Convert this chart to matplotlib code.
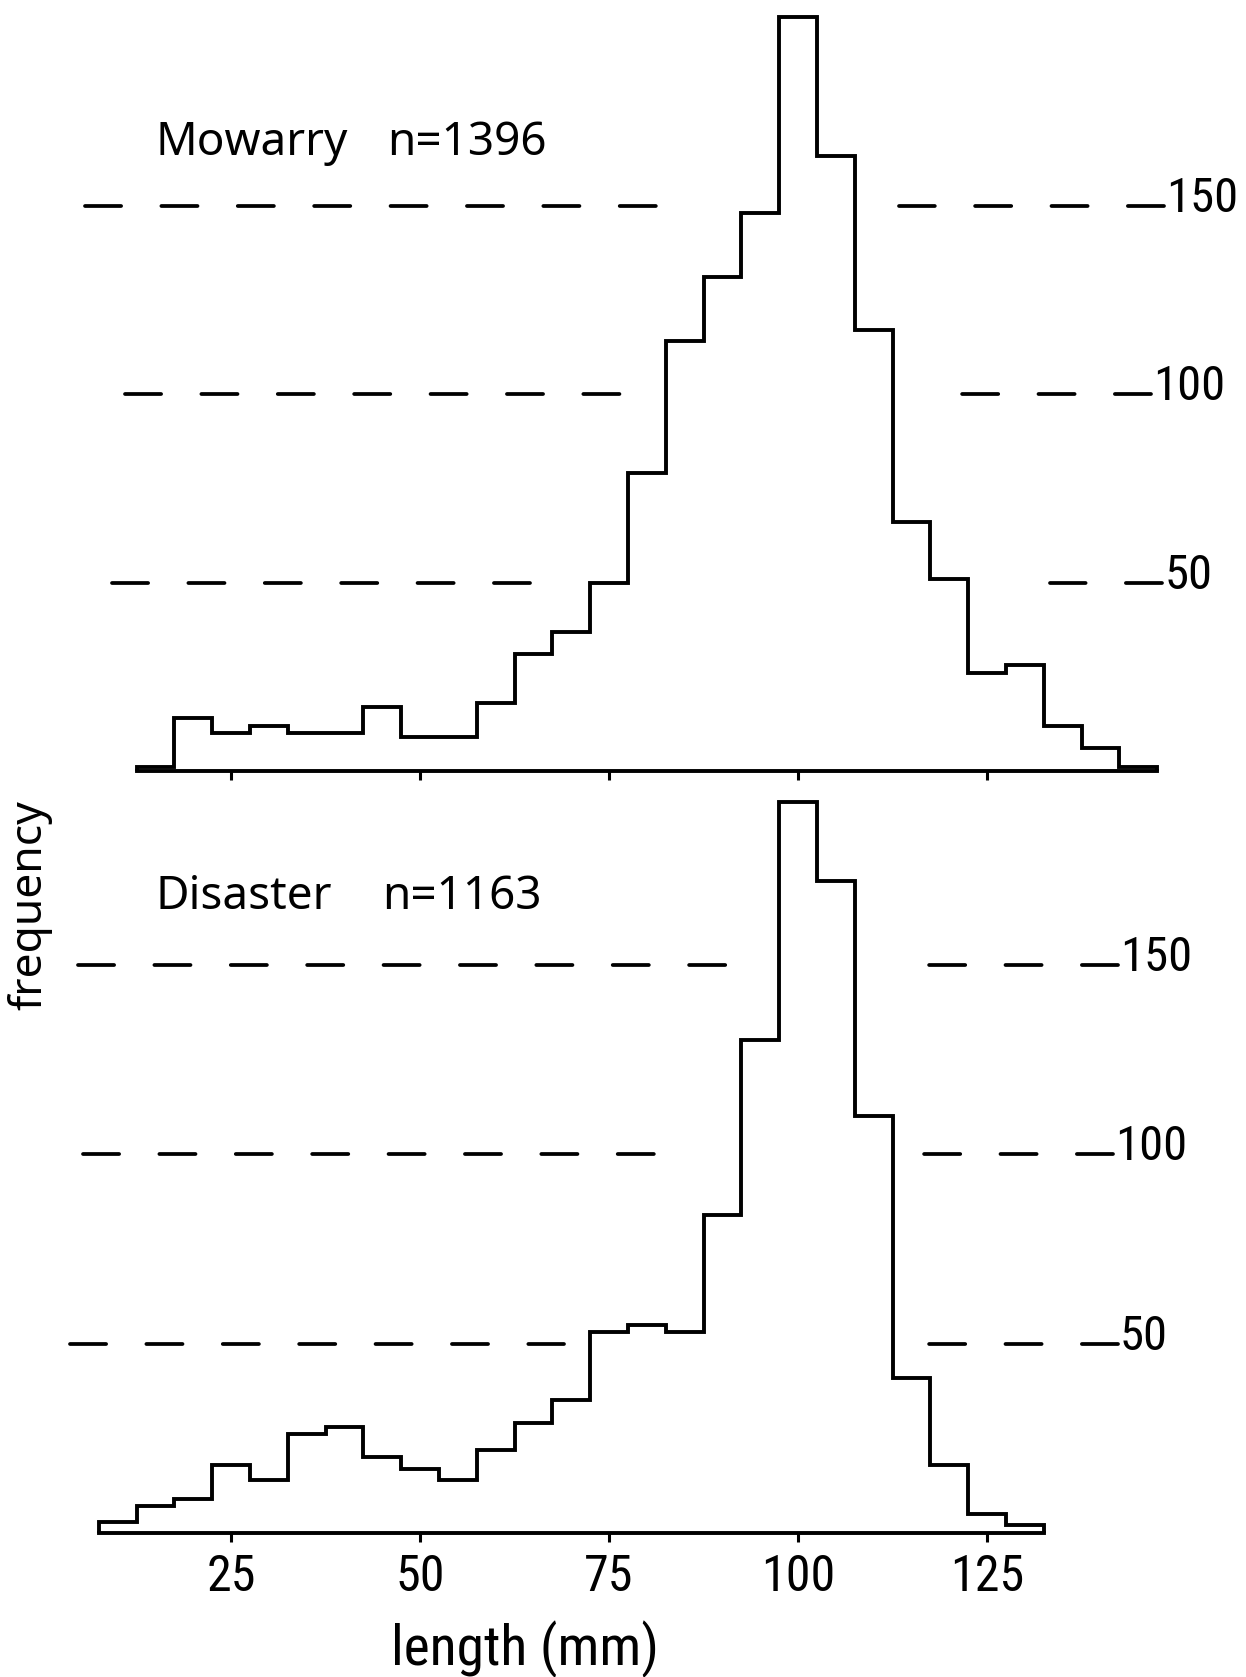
import os
import numpy as np
import matplotlib.pyplot as plt
from matplotlib import font_manager
from matplotlib.font_manager import FontProperties

# ----------------- DATA -----------------
# shell length classes, 5 mm wide, centred on multiples of 5 mm
BIN = 5
mowarry_centres = np.arange(15, 150, BIN)
mowarry_counts = [1, 14, 10, 12, 10, 10, 17, 9, 9, 18, 31, 37, 50, 79,
                  114, 131, 148, 200, 163, 117, 66, 51, 26, 28, 12, 6, 1]
disaster_centres = np.arange(10, 135, BIN)
disaster_counts = [3, 7, 9, 18, 14, 26, 28, 20, 17, 14, 22, 29, 35, 53,
                   55, 53, 84, 130, 193, 172, 110, 41, 18, 5, 2]

levels = [50, 100, 150]
xticks = [25, 50, 75, 100, 125]

# ----------------- STYLE -----------------
plt.rcParams['font.family'] = ['Noto Sans', 'DejaVu Sans']
plt.rcParams['lines.scale_dashes'] = False
LW = 2.8
DASH_ON, DASH_OFF = 26, 29          # points
DASH = dict(color='k', lw=2.7, ls=(0, (DASH_ON, DASH_OFF)),
            dash_capstyle='round')


def narrow_font():
    # narrowest sans face on hand for the numerals and the axis title
    files = {os.path.basename(f.fname): f.fname
             for f in font_manager.fontManager.ttflist}
    for name in ('NotoSans-ExtraCondensed.ttf',
                 'LiberationSansNarrow-Regular.ttf',
                 'RobotoCondensed-Regular.ttf',
                 'NotoSans-Condensed.ttf',
                 'DejaVuSansCondensed.ttf'):
        if name in files:
            return dict(fontproperties=FontProperties(fname=files[name]))
    return dict(family='Noto Sans')


NARROW = narrow_font()

W, H = 1246, 1677
PX_PER_MM = 7.56
XLIM = (-42 / PX_PER_MM, (W - 42) / PX_PER_MM)
PERIOD = (DASH_ON + DASH_OFF) / 72 * 100 / PX_PER_MM   # mm
DASH_LEN = DASH_ON / 72 * 100 / PX_PER_MM

fig = plt.figure(figsize=(W / 100, H / 100), dpi=100)
ax_top = fig.add_axes([0, 1 - 790 / H, 1, 790 / H])
ax_bot = fig.add_axes([0, 0, 1, 887 / H])
renderer = fig.canvas.get_renderer()


def fit_width(texts, width_px):
    # shrink a group of texts together so the widest one is width_px wide
    widest = max(t.get_window_extent(renderer).width for t in texts)
    if widest > width_px:
        for t in texts:
            t.set_fontsize(t.get_fontsize() * width_px / widest)


def dashes_to(start, end):
    # stop a dashed run at the end of a whole dash
    length = abs(end - start)
    k = np.floor((length - DASH_LEN) / PERIOD)
    return start + np.sign(end - start) * (k * PERIOD + DASH_LEN)


def draw_panel(ax, centres, counts, site, n, ylim, dash_start, label_x,
               title_y, n_x, show_labels):
    counts = np.asarray(counts)
    edges = np.append(centres - BIN / 2, centres[-1] + BIN / 2)
    ax.set_xlim(XLIM)
    ax.set_ylim(ylim)

    # histogram outline, closed by the base line (spine)
    ax.stairs(counts, edges, baseline=0, color='k', lw=LW)
    for side in ('left', 'right', 'top'):
        ax.spines[side].set_visible(False)
    ax.spines['bottom'].set_position(('data', 0))
    ax.spines['bottom'].set_bounds(edges[0], edges[-1])
    ax.spines['bottom'].set_linewidth(LW)
    ax.set_yticks([])
    ax.set_xticks(xticks, labels=[])
    ax.tick_params(axis='x', direction='out', length=6.5, width=2.2)

    # tick numbers written under the base line
    if show_labels:
        nums = [ax.text(t, -5.3, str(t), ha='center', va='top',
                        fontsize=40, **NARROW) for t in xticks]
        fit_width(nums, 74)

    # dashed reference lines, broken where the histogram rises to them
    labels = []
    for level in levels:
        near = np.nonzero(counts > level - 5)[0]
        left_end = edges[near[0]] - 3
        right_end = edges[near[-1] + 1] + 3
        start = dash_start[level]
        ax.plot([start, dashes_to(start, left_end)], [level, level], **DASH)
        end = label_x[level] - 0.3
        ax.plot([end, dashes_to(end, right_end)], [level, level], **DASH)
        labels.append(ax.text(label_x[level], level - 1.7, str(level),
                              ha='left', va='baseline', fontsize=35, **NARROW))
    fit_width(labels, 74)

    ax.text(15.0, title_y, site, ha='left', va='baseline', fontsize=33)
    ax.text(n_x, title_y, f'n={n}', ha='left', va='baseline', fontsize=33)


draw_panel(ax_top, mowarry_centres, mowarry_counts, 'Mowarry', 1396,
           ylim=((771 - 790) / 3.77, 771 / 3.77),
           dash_start={150: 5.7, 100: 11.0, 50: 9.3},
           label_x={150: 148.7, 100: 147.0, 50: 148.5},
           title_y=163.4, n_x=45.6, show_labels=False)

draw_panel(ax_bot, disaster_centres, disaster_counts, 'Disaster', 1163,
           ylim=((1533 - 1677) / 3.79, (1533 - 790) / 3.79),
           dash_start={150: 4.8, 100: 5.4, 50: 3.7},
           label_x={150: 142.6, 100: 142.0, 50: 142.6},
           title_y=164.6, n_x=45.0, show_labels=True)

xlabel = ax_bot.text(63.9, -34.8, 'length (mm)', ha='center', va='baseline',
                     fontsize=40, **NARROW)
fit_width([xlabel], 280)
fig.text(30 / W, 1 - 905 / H, 'frequency', rotation=90, ha='center',
         va='center', fontsize=32)

fig.savefig('out.png', dpi=100, facecolor='white')
